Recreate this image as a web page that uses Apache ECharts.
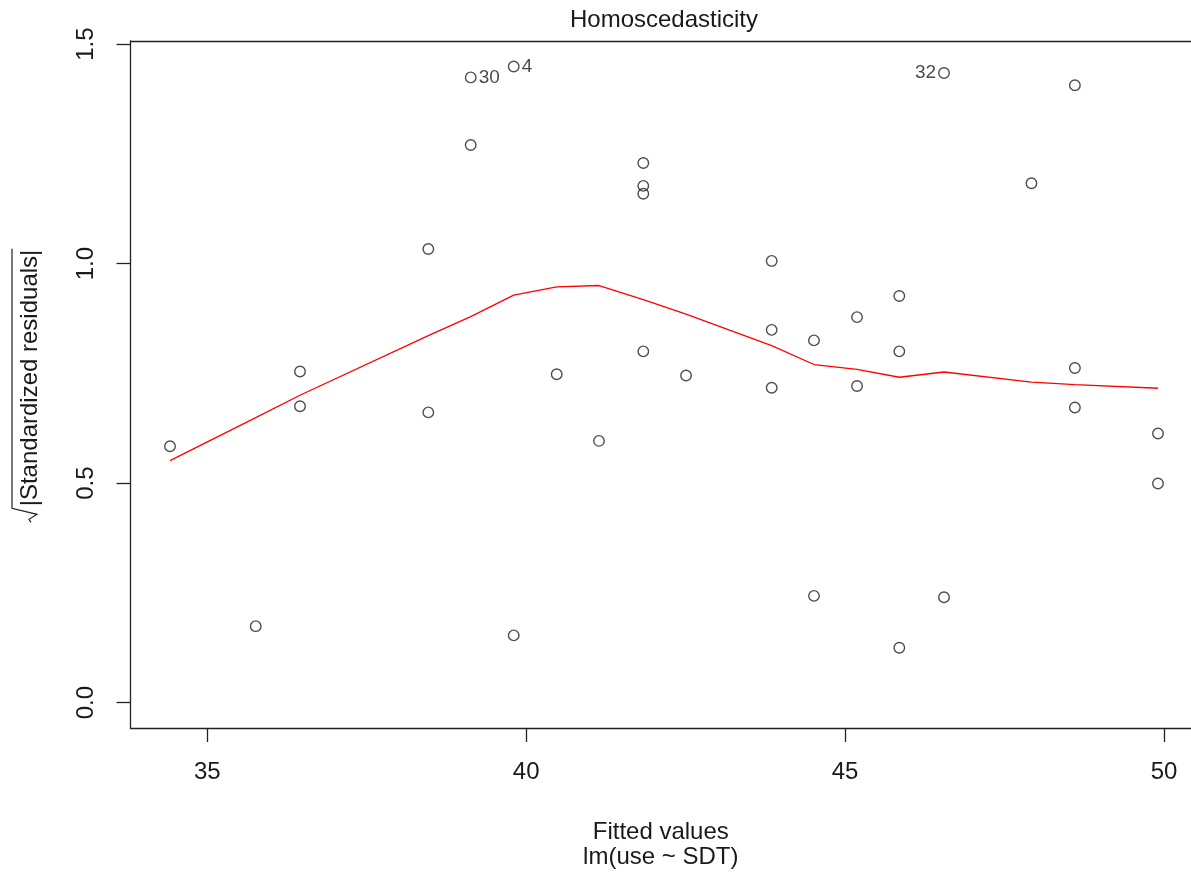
<!DOCTYPE html>
<html>
<head>
<meta charset="utf-8">
<script src="https://cdn.jsdelivr.net/npm/echarts@6/dist/echarts.min.js"></script>
<style>
html,body{margin:0;padding:0;background:#fff;}
#main{width:1191px;height:875px;}
</style>
</head>
<body>
<div id="main"></div>
<script>
// 拟合值 / sqrt|标准化残差|
let fitted = [34.415, 35.759, 36.453, 36.453, 38.465, 38.465, 39.130, 39.130, 39.804, 39.804,
    40.478, 41.141, 41.836, 41.836, 41.836, 41.836, 42.506, 43.849, 43.849, 43.849,
    44.512, 44.512, 45.187, 45.187, 45.850, 45.850, 45.850, 46.551, 46.551, 47.922,
    48.603, 48.603, 48.603, 49.906, 49.906]
let sqrtRes = [0.584, 0.174, 0.754, 0.675, 1.033, 0.661, 1.424, 1.270, 1.449, 0.153,
    0.748, 0.596, 1.229, 1.177, 1.159, 0.800, 0.745, 1.006, 0.849, 0.717,
    0.825, 0.243, 0.878, 0.721, 0.926, 0.800, 0.125, 1.434, 0.240, 1.183,
    1.406, 0.762, 0.672, 0.613, 0.499]

// 标注的点
let labelIndex = [6, 8, 27]
let labelText = ['30', '4', '32']

// lowess 平滑线
let smoothX = [34.415, 35.759, 36.453, 38.465, 39.130, 39.804, 40.478, 41.141, 41.836, 42.506,
    43.849, 44.512, 45.187, 45.850, 46.551, 47.922, 48.603, 49.906]
let smoothY = [0.551, 0.649, 0.700, 0.836, 0.879, 0.928, 0.947, 0.950, 0.918, 0.885,
    0.813, 0.770, 0.759, 0.741, 0.753, 0.730, 0.724, 0.716]

// 刻度
let xTicks = [35, 40, 45, 50]
let yTicks = [0, 0.5, 1.0, 1.5]

let titleText = 'Homoscedasticity'
let xName = 'Fitted values\nlm(use ~ SDT)'
let yName = '|Standardized residuals|'

let FONT = '"Liberation Sans", Arial, sans-serif'
let INK = '#1a1a1a'
let BOX = {color: '#222', width: 1.3}

// R 默认范围: 两边各扩 4%
let xLo = Math.min(...fitted), xHi = Math.max(...fitted)
let xPad = (xHi - xLo) * 0.04
let yHi = Math.max(...sqrtRes)
let yPad = yHi * 0.04

// 原图右边框在画面之外, 这里按可见宽度截断
let plotLeft = 130.5, fullWidth = 1067, visWidth = 1191 - plotLeft
let xMin = xLo - xPad
let xMax = xMin + (xHi + xPad - xMin) * visWidth / fullWidth

let midX = (xLo + xHi) / 2
let scatterData = fitted.map((x, i) => {
    let item = {value: [x, sqrtRes[i]]}
    let k = labelIndex.indexOf(i)
    if (k > -1) {
        item.label = {
            show: true,
            formatter: labelText[k],
            position: x > midX ? 'left' : 'right'
        }
    }
    return item
})
let smoothData = smoothX.map((x, i) => [x, smoothY[i]])

// y 轴名称宽度
let ctx = document.createElement('canvas').getContext('2d')
ctx.font = '24px ' + FONT
let w = ctx.measureText(yName).width

let mychart = echarts.init(document.getElementById('main'))
mychart.setOption({
    animation: false,
    title: {
        text: titleText,
        left: 664,
        top: 8,
        padding: 0,
        textAlign: 'center',
        textStyle: {fontFamily: FONT, fontSize: 24, fontWeight: 'normal', color: INK, lineHeight: 24}
    },
    grid: {
        left: plotLeft,
        right: 0,
        top: 41,
        bottom: 147,
        show: false
    },
    xAxis: [
        {
            type: 'value',
            min: xMin,
            max: xMax,
            name: xName,
            nameLocation: 'middle',
            nameGap: 91.5,
            nameTextStyle: {fontFamily: FONT, fontSize: 24, color: INK, lineHeight: 25},
            axisLine: {show: true, onZero: false, lineStyle: BOX},
            axisTick: {show: true, customValues: xTicks, length: 14, lineStyle: BOX},
            axisLabel: {customValues: xTicks, margin: 32, fontFamily: FONT, fontSize: 24, color: INK},
            splitLine: {show: false}
        },
        {
            // 上边框
            type: 'value',
            position: 'top',
            min: xMin,
            max: xMax,
            axisLine: {show: true, onZero: false, lineStyle: BOX},
            axisTick: {show: false},
            axisLabel: {show: false},
            splitLine: {show: false}
        }
    ],
    yAxis: {
        type: 'value',
        min: -yPad,
        max: yHi + yPad,
        axisLine: {show: true, onZero: false, lineStyle: BOX},
        axisTick: {show: true, customValues: yTicks, length: 14, lineStyle: BOX},
        axisLabel: {
            customValues: yTicks,
            rotate: 90,
            margin: 32,
            fontFamily: FONT,
            fontSize: 24,
            color: INK,
            formatter: v => v.toFixed(1)
        },
        splitLine: {show: false}
    },
    graphic: [
        {
            type: 'group',
            x: 29,
            y: 378,
            rotation: Math.PI / 2,
            children: [
                {
                    type: 'text',
                    x: 0,
                    y: 1,
                    style: {text: yName, font: '24px ' + FONT, fill: INK, align: 'center', verticalAlign: 'middle'}
                },
                {
                    type: 'polyline',
                    shape: {points: [[-w / 2 - 16, 2], [-w / 2 - 13, 0], [-w / 2 - 8, 8], [-w / 2 - 2, -17], [w / 2 + 1, -17]]},
                    style: {stroke: '#222', lineWidth: 1.2, fill: null}
                }
            ]
        }
    ],
    series: [
        {
            type: 'scatter',
            symbol: 'circle',
            symbolSize: 10.5,
            itemStyle: {color: 'transparent', borderColor: '#222', borderWidth: 1.4},
            label: {fontFamily: FONT, fontSize: 19, color: INK, distance: 2},
            data: scatterData
        },
        {
            type: 'line',
            showSymbol: false,
            lineStyle: {color: '#ff0000', width: 1.3},
            data: smoothData
        }
    ]
})
</script>
</body>
</html>
